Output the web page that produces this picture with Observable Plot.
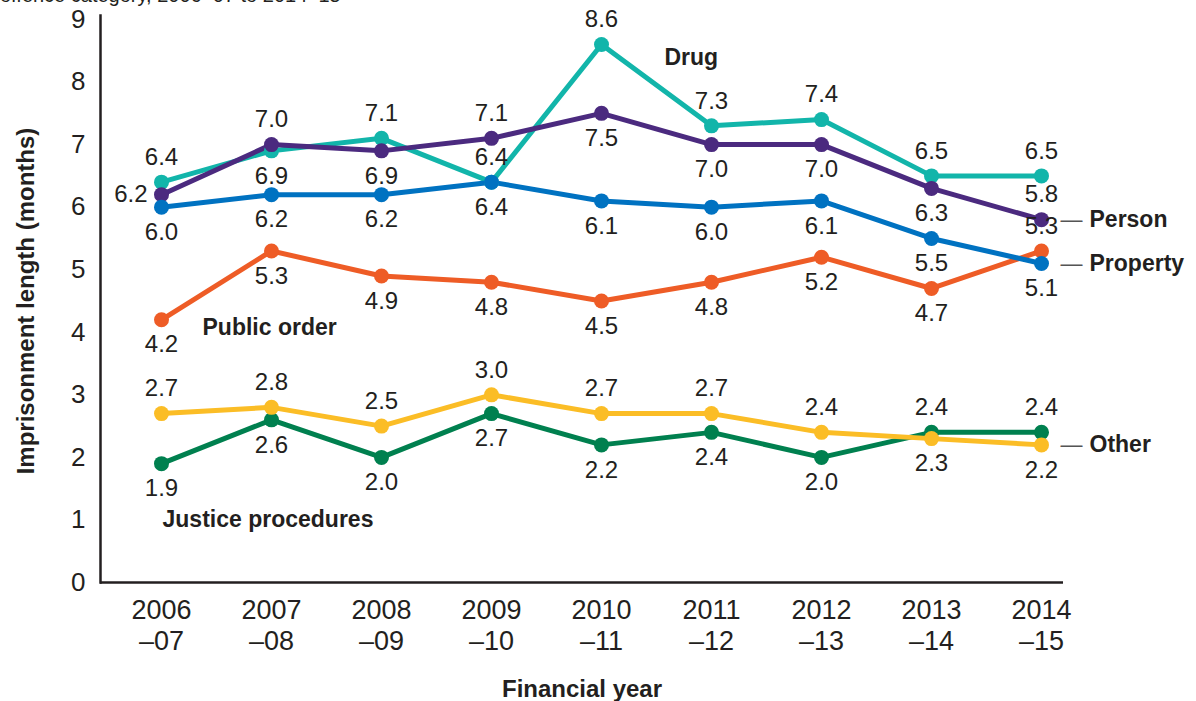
<!DOCTYPE html>
<html>
<head>
<meta charset="utf-8">
<script src="https://cdn.jsdelivr.net/npm/d3@7"></script>
<script src="https://cdn.jsdelivr.net/npm/@observablehq/plot@0.6"></script>
<style>
  body { margin: 0; background: #fff; }
  #title { height: 8px; overflow: hidden; font-family: "Liberation Sans", Arial, sans-serif; font-size: 20px; color: #231f20; }
  #title span { display: block; line-height: 20px; margin-top: -15px; white-space: nowrap; }
  #chart svg { font-family: "Liberation Sans", Arial, sans-serif; color: #231f20; }
  g[aria-label="y-axis label"] text, g[aria-label="x-axis label"] text { font-weight: bold; font-size: 24px; }
</style>
</head>
<body>
<div id="title"><span>offence category, 2006–07 to 2014–15</span></div>
<div id="chart"></div>
<script>
// ---- data ----
const years = ["2006", "2007", "2008", "2009", "2010", "2011", "2012", "2013", "2014"];
const yearLabels = ["2006\n–07", "2007\n–08", "2008\n–09", "2009\n–10", "2010\n–11", "2011\n–12", "2012\n–13", "2013\n–14", "2014\n–15"];
const drug        = [6.4, 6.9, 7.1, 6.4, 8.6, 7.3, 7.4, 6.5, 6.5];
const person      = [6.2, 7.0, 6.9, 7.1, 7.5, 7.0, 7.0, 6.3, 5.8];
const property    = [6.0, 6.2, 6.2, 6.4, 6.1, 6.0, 6.1, 5.5, 5.1];
const publicOrder = [4.2, 5.3, 4.9, 4.8, 4.5, 4.8, 5.2, 4.7, 5.3];
const other       = [2.7, 2.8, 2.5, 3.0, 2.7, 2.7, 2.4, 2.3, 2.2];
const justice     = [1.9, 2.6, 2.0, 2.7, 2.2, 2.4, 2.0, 2.4, 2.4];
const yTicks = [0, 1, 2, 3, 4, 5, 6, 7, 8, 9];

// ---- presentation config ----
// a = above, b = below, l = left
const labelSides = {
  "Justice procedures": ["b","b","b","b","b","b","b","a","a"],
  "Other":              ["a","a","a","a","a","a","a","b","b"],
  "Drug":               ["a","b","a","a","a","a","a","a","a"],
  "Person":             ["l","a","b","a","b","b","b","b","a"],
  "Public order":       ["b","b","b","b","b","b","b","b","a"],
  "Property":           ["b","b","b","b","b","b","b","b","b"]
};
const seriesList = [
  {name: "Justice procedures", values: justice,     color: "#00804f"},
  {name: "Other",              values: other,       color: "#fbbd26"},
  {name: "Drug",               values: drug,        color: "#12b5aa"},
  {name: "Person",             values: person,      color: "#4b2a7f"},
  {name: "Public order",       values: publicOrder, color: "#ee5c26"},
  {name: "Property",           values: property,    color: "#0072c1"}
];

const rows = [];
for (const s of seriesList) {
  s.values.forEach((v, i) => rows.push({series: s.name, year: years[i], value: v, side: labelSides[s.name][i]}));
}
const colorDomain = seriesList.map(s => s.name);
const colorRange = seriesList.map(s => s.color);
const pick = (name, year) => rows.filter(r => r.series === name && r.year === year);
const lastYear = years[years.length - 1];

const fmt = d3.format(".1f");
const ink = "#231f20";

const chart = Plot.plot({
  width: 1196,
  height: 693,
  marginLeft: 100,
  marginRight: 133,
  marginTop: 11,
  marginBottom: 119,
  x: {type: "point", domain: years, padding: 0, insetLeft: 57, insetRight: 19},
  y: {domain: [0, 9]},
  color: {domain: colorDomain, range: colorRange},
  marks: [
    Plot.axisY({ticks: yTicks, tickSize: 0, tickPadding: 15, fontSize: 26, label: "Imprisonment length (months)", labelAnchor: "center", labelOffset: 84, labelArrow: "none"}),
    Plot.axisX({tickSize: 0, tickPadding: 15, fontSize: 27, lineHeight: 1.14, tickFormat: (d) => yearLabels[years.indexOf(d)], label: "Financial year", labelAnchor: "center", labelOffset: 114, labelArrow: "none"}),
    Plot.frame({anchor: "left", stroke: ink, strokeWidth: 2.5, insetTop: -4}),
    Plot.ruleY([0], {stroke: ink, strokeWidth: 2.5}),
    Plot.line(rows, {x: "year", y: "value", z: "series", stroke: "series", strokeWidth: 5}),
    Plot.dot(rows, {x: "year", y: "value", fill: "series", r: 7.5}),
    Plot.text(rows.filter(r => r.side === "a"), {x: "year", y: "value", text: d => fmt(d.value), dy: -25, fontSize: 24, fill: ink}),
    Plot.text(rows.filter(r => r.side === "b"), {x: "year", y: "value", text: d => fmt(d.value), dy: 25, fontSize: 24, fill: ink}),
    Plot.text(rows.filter(r => r.side === "l"), {x: "year", y: "value", text: d => fmt(d.value), dx: -14, textAnchor: "end", fontSize: 24, fill: ink}),
    // series annotations
    Plot.text(pick("Drug", "2010"), {x: "year", y: "value", text: "series", dx: 63, dy: 13, textAnchor: "start", fontSize: 23, fontWeight: "bold", fill: ink}),
    Plot.text(pick("Public order", "2006"), {x: "year", y: "value", text: "series", dx: 41, dy: 8, textAnchor: "start", fontSize: 23, fontWeight: "bold", fill: ink}),
    Plot.text(pick("Justice procedures", "2006"), {x: "year", y: "value", text: "series", dx: 1, dy: 56, textAnchor: "start", fontSize: 23, fontWeight: "bold", fill: ink}),
    Plot.text(["Person", "Property", "Other"].flatMap(n => pick(n, lastYear)), {x: "year", y: "value", text: () => "—", dx: 19, textAnchor: "start", fontSize: 22, fill: "#555"}),
    Plot.text(["Person", "Property", "Other"].flatMap(n => pick(n, lastYear)), {x: "year", y: "value", text: "series", dx: 48, textAnchor: "start", fontSize: 23, fontWeight: "bold", fill: ink})
  ]
});
document.getElementById("chart").appendChild(chart);
</script>
</body>
</html>
